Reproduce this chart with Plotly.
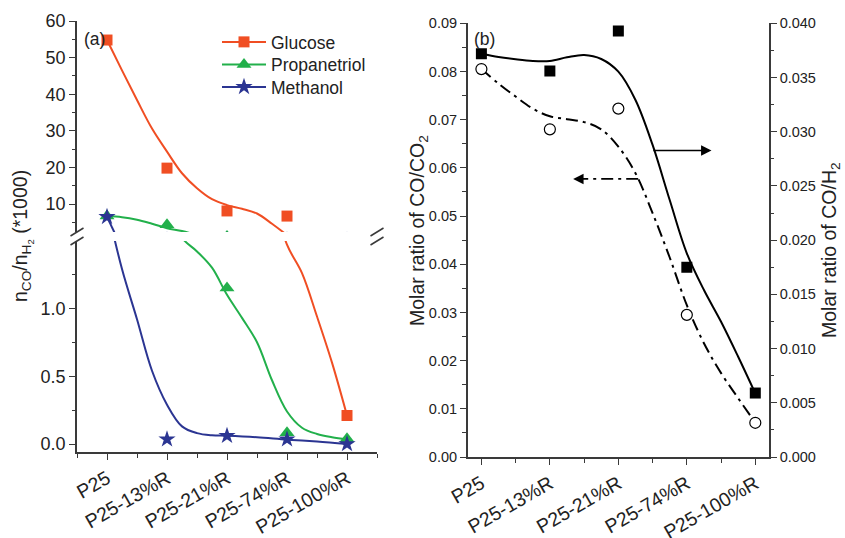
import plotly.graph_objects as go

W, H = 845, 538


def px_x(x):
    return x / W


def px_y(y):
    return 1 - y / H


# ---------------- data ----------------
categories = ["P25", "P25-13%R", "P25-21%R", "P25-74%R", "P25-100%R"]
cat_idx = [0, 1, 2, 3, 4]

# panel (a): n_CO/n_H2 (*1000)
glucose = [54.8, 19.8, 8.1, 6.7, 0.21]
propanetriol = [6.7, 4.3, 1.15, 0.083, 0.038]
methanol = [6.5, 0.035, 0.061, 0.035, 0.0]

# smoothed guide curves of panel (a) (upper / lower axis segment)
glucose_fit_up_x = [0, 0.25, 0.5, 0.75, 1, 1.25, 1.5, 1.75, 2, 2.25, 2.5, 2.75, 3]
glucose_fit_up_y = [54.8, 46.5, 38.4, 30.6, 24.3, 18.4, 14.3, 11.3, 9.7, 8.7, 7.4, 4.6, 1.5]
glucose_fit_lo_x = [2.75, 3, 3.25, 3.5, 3.75, 4]
glucose_fit_lo_y = [1.85, 1.47, 1.26, 0.94, 0.6, 0.21]

propanetriol_fit_up_x = [0, 0.25, 0.5, 0.75, 1, 1.25, 1.5]
propanetriol_fit_up_y = [6.7, 6.4, 5.7, 4.6, 3.4, 2.6, 1.5]
propanetriol_fit_lo_x = [1, 1.25, 1.5, 1.75, 2, 2.25, 2.5, 2.75, 3, 3.25, 3.5, 3.75, 4]
propanetriol_fit_lo_y = [1.75, 1.52, 1.42, 1.3, 1.1, 0.93, 0.75, 0.47, 0.24, 0.12, 0.074, 0.05, 0.035]

methanol_fit_up_x = [0, 0.25]
methanol_fit_up_y = [6.5, -2.1]
methanol_fit_lo_x = [0, 0.25, 0.5, 0.75, 1, 1.25, 1.5, 1.75, 2, 2.5, 3, 3.5, 4]
methanol_fit_lo_y = [1.75, 1.29, 0.92, 0.54, 0.29, 0.13, 0.08, 0.064, 0.061, 0.05, 0.032, 0.018, 0.0]

# panel (b)
co_co2 = [0.0805, 0.068, 0.0723, 0.0295, 0.0071]     # left axis, open circles
co_h2 = [0.0372, 0.0356, 0.0393, 0.0175, 0.0059]     # right axis, filled squares

fit_x_b = [0, 0.25, 0.5, 0.75, 1, 1.25, 1.5, 1.75, 2, 2.25, 2.5, 2.75, 3, 3.25, 3.5, 3.75, 4]
co_h2_fit = [0.0372, 0.0369, 0.03668, 0.03652, 0.03652, 0.03686, 0.03708, 0.03671, 0.03554,
             0.03293, 0.02878, 0.0237, 0.01879, 0.0154, 0.01248, 0.00925, 0.00587]
co_co2_fit = [0.0805, 0.0775, 0.0748, 0.0723, 0.0707, 0.0701, 0.0695, 0.068, 0.0644,
              0.0589, 0.0506, 0.0414, 0.0315, 0.0236, 0.0174, 0.0122, 0.0071]

# tick labels
a_up_ticks = [10, 20, 30, 40, 50, 60]
a_up_minor = [5, 15, 25, 35, 45, 55]
a_lo_ticks = [0.0, 0.5, 1.0]
a_lo_labels = ["0.0", "0.5", "1.0"]
a_lo_minor = [0.25, 0.75, 1.25]
b_left_ticks = [0, 0.01, 0.02, 0.03, 0.04, 0.05, 0.06, 0.07, 0.08, 0.09]
b_left_labels = ["0.00", "0.01", "0.02", "0.03", "0.04", "0.05", "0.06", "0.07", "0.08", "0.09"]
b_left_minor = [0.005, 0.015, 0.025, 0.035, 0.045, 0.055, 0.065, 0.075, 0.085]
b_right_ticks = [0, 0.005, 0.01, 0.015, 0.02, 0.025, 0.03, 0.035, 0.04]
b_right_labels = ["0.000", "0.005", "0.010", "0.015", "0.020", "0.025", "0.030", "0.035", "0.040"]
b_right_minor = [0.0025, 0.0075, 0.0125, 0.0175, 0.0225, 0.0275, 0.0325, 0.0375]
x_minor = [0.5, 1.5, 2.5, 3.5]

# ---------------- style ----------------
FONT = "Liberation Sans, Arial, sans-serif"
ORANGE = "#F04E23"
GREEN = "#22B04B"
BLUE = "#2B3592"
AXC = "#3a3a3a"
TXT = "#222222"

fig = go.Figure()

series = [
    ("Glucose", glucose, ORANGE, "square", 11,
     (glucose_fit_up_x, glucose_fit_up_y), (glucose_fit_lo_x, glucose_fit_lo_y), "legend", 42),
    ("Propanetriol", propanetriol, GREEN, "triangle-up", 13,
     (propanetriol_fit_up_x, propanetriol_fit_up_y), (propanetriol_fit_lo_x, propanetriol_fit_lo_y), "legend2", 64.5),
    ("Methanol", methanol, BLUE, "star", 13,
     (methanol_fit_up_x, methanol_fit_up_y), (methanol_fit_lo_x, methanol_fit_lo_y), "legend3", 87),
]

legend_layouts = {}
for name, vals, col, sym, size, up, lo, leg, ly in series:
    fig.add_trace(go.Scatter(x=up[0], y=up[1], mode="lines", line=dict(color=col, width=2, shape="spline"),
                             xaxis="x", yaxis="y2", showlegend=False, hoverinfo="skip"))
    fig.add_trace(go.Scatter(x=lo[0], y=lo[1], mode="lines", line=dict(color=col, width=2, shape="spline"),
                             xaxis="x", yaxis="y", showlegend=False, hoverinfo="skip"))
    for ya in ("y", "y2"):
        fig.add_trace(go.Scatter(x=cat_idx, y=vals, mode="markers",
                                 marker=dict(color=col, symbol=sym, size=size, line=dict(width=0)),
                                 xaxis="x", yaxis=ya, showlegend=False, cliponaxis=True))
    fig.add_trace(go.Scatter(x=[None], y=[None], mode="lines+markers", name=name,
                             line=dict(color=col, width=2),
                             marker=dict(color=col, symbol=sym, size=size),
                             xaxis="x", yaxis="y2", showlegend=True, legend=leg))
    legend_layouts[leg] = dict(x=px_x(217), y=px_y(ly), xanchor="left", yanchor="middle",
                               bgcolor="rgba(0,0,0,0)", font=dict(family=FONT, size=17.5, color=TXT),
                               itemwidth=44, borderwidth=0)

# panel (b)
fig.add_trace(go.Scatter(x=fit_x_b, y=co_h2_fit, mode="lines", line=dict(color="black", width=2, shape="spline"),
                         xaxis="x4", yaxis="y4", showlegend=False))
fig.add_trace(go.Scatter(x=fit_x_b, y=co_co2_fit, mode="lines",
                         line=dict(color="black", width=2, shape="spline", dash="12px,5px,3px,5px"),
                         xaxis="x4", yaxis="y3", showlegend=False))
fig.add_trace(go.Scatter(x=cat_idx, y=co_h2, mode="markers",
                         marker=dict(color="black", symbol="square", size=11),
                         xaxis="x4", yaxis="y4", showlegend=False))
fig.add_trace(go.Scatter(x=cat_idx, y=co_co2, mode="markers",
                         marker=dict(color="white", symbol="circle", size=11, line=dict(color="black", width=1.2)),
                         xaxis="x4", yaxis="y3", showlegend=False))

tickfont_a = dict(family=FONT, size=18, color=TXT)
tickfont_b = dict(family=FONT, size=14.5, color=TXT)
catfont = dict(family=FONT, size=19.5, color=TXT)

common = dict(showgrid=False, zeroline=False, showline=True, linewidth=1.5, linecolor=AXC,
              tickcolor=AXC, tickwidth=1.2)

xa_dom = [px_x(77), px_x(377)]
xb_dom = [px_x(467.7), px_x(769)]

fig.update_layout(
    width=W, height=H,
    margin=dict(l=0, r=0, t=0, b=0),
    paper_bgcolor="white", plot_bgcolor="rgba(0,0,0,0)",
    font=dict(family=FONT, color=TXT),
    xaxis=dict(domain=xa_dom, anchor="y", range=[-0.5, 4.5], tickmode="array", tickvals=cat_idx,
               ticktext=categories, tickangle=-30, ticks="outside", ticklen=6, tickfont=catfont,
               minor=dict(tickmode="array", tickvals=[-0.5] + x_minor + [4.5], ticks="outside", ticklen=4,
                          tickcolor=AXC, tickwidth=1.2),
               automargin=False, **common),
    xaxis3=dict(overlaying="x", anchor="y2", side="top", range=[-0.5, 4.5], tickmode="array",
                tickvals=cat_idx, ticks="inside", ticklen=4, showticklabels=False,
                minor=dict(tickmode="array", tickvals=x_minor, ticks="inside", ticklen=3,
                           tickcolor=AXC, tickwidth=1.2),
                automargin=False, **common),
    yaxis=dict(domain=[px_y(452), px_y(241)], anchor="x", range=[-0.059, 1.497], tickmode="array",
               tickvals=a_lo_ticks, ticktext=a_lo_labels, ticks="outside", ticklen=6, tickfont=tickfont_a,
               minor=dict(tickmode="array", tickvals=a_lo_minor, ticks="outside", ticklen=3.5,
                          tickcolor=AXC, tickwidth=1.2),
               automargin=False, **common),
    yaxis2=dict(domain=[px_y(232), px_y(21)], anchor="x", range=[2.35, 60], tickmode="array",
                tickvals=a_up_ticks, ticks="outside", ticklen=6, tickfont=tickfont_a,
                minor=dict(tickmode="array", tickvals=a_up_minor, ticks="outside", ticklen=3.5,
                           tickcolor=AXC, tickwidth=1.2),
                automargin=False, **common),
    yaxis5=dict(overlaying="y", anchor="x", side="right", range=[-0.059, 1.497], tickmode="array",
                tickvals=a_lo_ticks, ticks="inside", ticklen=3, showticklabels=False,
                minor=dict(tickmode="array", tickvals=a_lo_minor, ticks="inside", ticklen=2,
                           tickcolor=AXC, tickwidth=1),
                automargin=False, **common),
    yaxis6=dict(overlaying="y2", anchor="x", side="right", range=[2.35, 60], tickmode="array",
                tickvals=a_up_ticks, ticks="inside", ticklen=3, showticklabels=False,
                minor=dict(tickmode="array", tickvals=a_up_minor, ticks="inside", ticklen=2,
                           tickcolor=AXC, tickwidth=1),
                automargin=False, **common),
    xaxis4=dict(domain=xb_dom, anchor="y3", range=[-0.2, 4.2], tickmode="array", tickvals=cat_idx,
                ticktext=categories, tickangle=-30, ticks="outside", ticklen=6, tickfont=catfont,
                minor=dict(tickmode="array", tickvals=x_minor, ticks="outside", ticklen=4,
                           tickcolor=AXC, tickwidth=1.2),
                automargin=False, **common),
    xaxis5=dict(overlaying="x4", anchor="y3", side="top", range=[-0.2, 4.2], tickmode="array",
                tickvals=cat_idx, ticks="inside", ticklen=4, showticklabels=False,
                minor=dict(tickmode="array", tickvals=x_minor, ticks="inside", ticklen=3,
                           tickcolor=AXC, tickwidth=1.2),
                automargin=False, **common),
    yaxis3=dict(domain=[px_y(457), px_y(23.3)], anchor="x4", range=[0, 0.09], tickmode="array",
                tickvals=b_left_ticks, ticktext=b_left_labels, ticks="outside", ticklen=6, tickfont=tickfont_b,
                minor=dict(tickmode="array", tickvals=b_left_minor, ticks="outside", ticklen=3.5,
                           tickcolor=AXC, tickwidth=1.2),
                automargin=False, **common),
    yaxis4=dict(overlaying="y3", anchor="x4", side="right", range=[0, 0.04], tickmode="array",
                tickvals=b_right_ticks, ticktext=b_right_labels, ticks="outside", ticklen=6, tickfont=tickfont_b,
                minor=dict(tickmode="array", tickvals=b_right_minor, ticks="outside", ticklen=3.5,
                           tickcolor=AXC, tickwidth=1.2),
                automargin=False, **common),
    **legend_layouts,
)

# axis titles and panel labels
TFONT = dict(family=FONT, size=19.5, color=TXT)
fig.add_annotation(x=px_x(22), y=px_y(236), xref="paper", yref="paper", textangle=-90, showarrow=False,
                   xanchor="center", yanchor="middle",
                   text="n<sub>CO</sub>/n<sub>H<sub>2</sub></sub> (*1000)", font=TFONT)
fig.add_annotation(x=px_x(418), y=px_y(231), xref="paper", yref="paper", textangle=-90, showarrow=False,
                   xanchor="center", yanchor="middle",
                   text="Molar ratio of CO/CO<sub>2</sub>", font=TFONT)
fig.add_annotation(x=px_x(830), y=px_y(250), xref="paper", yref="paper", textangle=-90, showarrow=False,
                   xanchor="center", yanchor="middle",
                   text="Molar ratio of CO/H<sub>2</sub>", font=TFONT)
fig.add_annotation(x=px_x(82), y=px_y(39), xref="paper", yref="paper", xanchor="left", yanchor="middle",
                   showarrow=False, text="(a)", font=dict(family=FONT, size=17.5, color=TXT))
fig.add_annotation(x=px_x(472), y=px_y(39), xref="paper", yref="paper", xanchor="left", yanchor="middle",
                   showarrow=False, text="(b)", font=dict(family=FONT, size=17.5, color=TXT))

# arrows in panel (b)
fig.add_annotation(x=3.36, y=0.0636, ax=2.49, ay=0.0636, xref="x4", yref="y3", axref="x4", ayref="y3",
                   text="", showarrow=True, arrowhead=2, arrowsize=1.3, arrowwidth=1.6, arrowcolor="black")
fig.add_shape(type="line", x0=2.29, x1=1.47, y0=0.0577, y1=0.0577, xref="x4", yref="y3",
              line=dict(color="black", width=1.8, dash="12px,5px,3px,5px"))
fig.add_annotation(x=1.34, y=0.0577, ax=1.5, ay=0.0577, xref="x4", yref="y3", axref="x4", ayref="y3",
                   text="", showarrow=True, arrowhead=2, arrowsize=1.3, arrowwidth=1.6, arrowcolor="black")

# axis-break marks
for xc in (77, 377):
    for yc in (232, 241):
        fig.add_shape(type="line", xref="paper", yref="paper",
                      x0=px_x(xc - 6.5), y0=px_y(yc + 4), x1=px_x(xc + 6.5), y1=px_y(yc - 4),
                      line=dict(color=AXC, width=1.5))

fig.write_html("out.html")
